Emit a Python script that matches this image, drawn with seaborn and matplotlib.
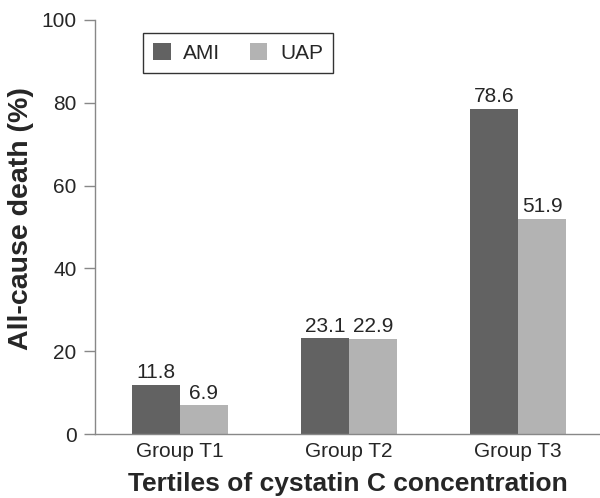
import pandas as pd
import seaborn as sns
import matplotlib.pyplot as plt

groups = ["Group T1", "Group T2", "Group T3"]
ami = [11.8, 23.1, 78.6]
uap = [6.9, 22.9, 51.9]

df = pd.DataFrame({
    "Group": groups * 2,
    "Type": ["AMI"] * 3 + ["UAP"] * 3,
    "Death": ami + uap,
})

sns.set_style("white")
plt.rcParams["font.family"] = ["Liberation Sans", "DejaVu Sans"]

fig = plt.figure(figsize=(6, 4.98), dpi=100)
ax = fig.add_axes([0.158, 0.1285, 0.842, 0.8315])
sns.barplot(data=df, x="Group", y="Death", hue="Type", palette=["#626262", "#b3b3b3"],
            width=0.57, gap=0, saturation=1, linewidth=0, ax=ax)

for c in ax.containers:
    ax.bar_label(c, fmt="%.1f", fontsize=15, padding=2)

ax.set_ylim(0, 100)
ax.set_xlim(-0.503, 2.485)
ax.set_yticks([0, 20, 40, 60, 80, 100])
ax.tick_params(axis="y", length=8, width=1, color="#888888", labelsize=15, left=True, direction="out", pad=5)
ax.tick_params(axis="x", length=0, labelsize=15, pad=6)
for s in ["top", "right"]:
    ax.spines[s].set_visible(False)
for s in ["left", "bottom"]:
    ax.spines[s].set_color("#888888")
    ax.spines[s].set_linewidth(1)
ax.set_xlabel("Tertiles of cystatin C concentration", fontsize=19, fontweight="bold", labelpad=8)
ax.set_ylabel("All-cause death (%)", fontsize=20.5, fontweight="bold")
ax.yaxis.set_label_coords(-0.12, 0.52)
ax.legend(loc="upper left", bbox_to_anchor=(0.095, 0.969), borderaxespad=0, ncol=2, frameon=True,
          fancybox=False, edgecolor="black", fontsize=15, handlelength=0.85, handleheight=0.85,
          columnspacing=1.4, handletextpad=0.6, borderpad=0.5, title=None)
ax.get_legend().get_frame().set_linewidth(1)

plt.savefig("out.png", dpi=100)
